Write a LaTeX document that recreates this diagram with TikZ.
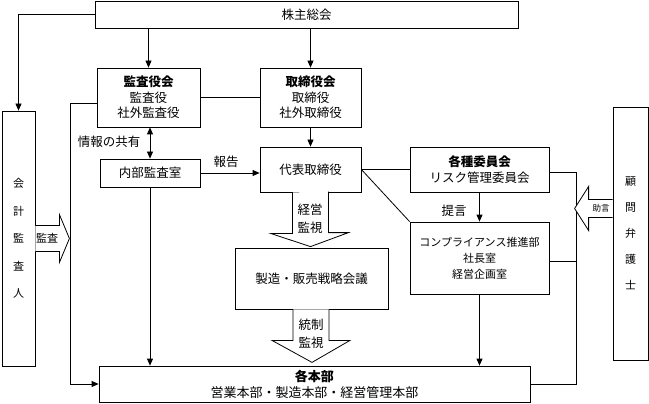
\documentclass[tikz,border=0pt]{standalone}
\usepackage{fontspec}
\setmainfont{Noto Sans CJK JP}
\usetikzlibrary{calc,arrows.meta}

\tikzset{
  box/.style={draw, fill=white, inner sep=1pt, align=center,
    font=\fontsize{12.5}{15.5}\selectfont},
  tatebox/.style={draw, inner sep=1pt, align=center},
  blockarrow/.style={draw, fill=white, line join=miter},
  tag/.style={draw=none, inner sep=0pt, align=center,
    font=\fontsize{12.5}{18}\selectfont},
}

\begin{document}
\begin{tikzpicture}[x=1pt, y=-1pt, line width=0.8pt,
  >={Triangle[length=7pt,width=6pt]}]

\useasboundingbox (0,0) rectangle (649,404);

% boxes
\node [box, minimum width=423pt, minimum height=27pt] (kabunushi) at (306.5,14.5) {株主総会};
\node [box, minimum width=103pt, minimum height=59pt] (kansayaku) at (148.5,97.5) {\textbf{監査役会}\\監査役\\社外監査役};
\node [box, minimum width=101pt, minimum height=59pt] (torishimari) at (310.5,97.5) {\textbf{取締役会}\\取締役\\社外取締役};
\node [box, minimum width=100pt, minimum height=28pt] (naibu) at (150,173) {内部監査室};
\node [box, minimum width=101pt, minimum height=45pt] (daihyo) at (310.5,169.5) {代表取締役};
\node [box, minimum width=153pt, minimum height=61pt] (senryaku) at (311.5,278.5) {\raisebox{-4pt}{製造・販売戦略会議}};
\node [box, minimum width=431pt, minimum height=36pt, font=\fontsize{13}{16}\selectfont] (honbu) at (314.5,384) {\textbf{各本部}\\営業本部・製造本部・経営管理本部};
\node [box, minimum width=139pt, minimum height=45pt] (iinkai) at (479.5,169.5) {\textbf{各種委員会}\\リスク管理委員会};
\node [box, minimum width=139pt, minimum height=72pt, font=\fontsize{11}{16}\selectfont] (comp) at (479.5,258) {コンプライアンス推進部\\社長室\\経営企画室};
\node [tatebox, minimum width=33pt, minimum height=255pt, font=\fontsize{11}{27.5}\selectfont] (kaikei) at (18.5,238.5) {会\\計\\監\\査\\人};
\node [tatebox, minimum width=35pt, minimum height=253pt, font=\fontsize{11}{26}\selectfont] (bengo) at (630.5,233.5) {顧\\問\\弁\\護\\士};

\coordinate (lbus) at (70,0);
\coordinate (rbus) at (576,0);

% connectors
\draw [->] (kabunushi.west) -| (kaikei.north);
\draw [->] (kansayaku.north |- kabunushi.south) -- (kansayaku.north);
\draw [->] (torishimari.north |- kabunushi.south) -- (torishimari.north);
\draw (kansayaku.east) -- (torishimari.west);
\draw [->] ([yshift=-6pt]kansayaku.west) -| (lbus |- honbu.west) -- (honbu.west);
\draw [<->] (kansayaku.south -| naibu.north) -- (naibu.north);
\node [tag] (kyoyu) at (109,142) {情報の共有};
\draw [->] (naibu.south) -- (naibu.south |- honbu.north);
\draw [->] (naibu.east) -- (naibu.east -| daihyo.west);
\node [tag] (hokoku) at (226,162) {報告};
\draw [->] (torishimari.south) -- (daihyo.north);
\draw (daihyo.east) -- (iinkai.west);
\draw (daihyo.east) -- (comp.north west);
\draw [->] (iinkai.south) -- (comp.north);
\node [tag] (teigen) at (454,211) {提言};
\draw [->] (comp.south) -- (comp.south |- honbu.north);
\draw ([yshift=-3pt]iinkai.east) -| (rbus |- honbu.east) -- (honbu.east);
\draw ([yshift=-3pt]comp.east) -- ([yshift=-3pt]comp.east -| rbus);

% block arrows
\draw [blockarrow] ($(daihyo.south)+(-18,0)$) -- ++(0,41) -- ++(-22,0)
  -- ($(senryaku.north)+(-1,-1)$) -- ++(38,-14) -- ++(-20,0) -- ++(0,-41);
\node [tag] (keiei) at (310,219) {経営\\監視};
\draw [blockarrow] ($(senryaku.south)+(-18.5,0)$) -- ++(0,31) -- ++(-21,0)
  -- ($(senryaku.south)+(0.5,53)$) -- ++(38,-22) -- ++(-21,0) -- ++(0,-31);
\node [tag] (tosei) at (311,334) {統制\\監視};
\draw [blockarrow] ($(kaikei.east)+(0,-13)$) -- ++(24,0) -- ++(0,-11)
  -- ($(kaikei.east)+(34,0)$) -- ++(-10,24) -- ++(0,-11) -- ++(-24,0);
\node [tag, font=\fontsize{11}{13}\selectfont] (kansa) at (47,238.5) {監査};
\draw [blockarrow] ($(bengo.west)+(0,-34)$) -- ++(-24,0) -- ++(0,-13)
  -- ($(bengo.west)+(-38,-25)$) -- ++(14,22) -- ++(0,-13) -- ++(24,0);
\node [tag, font=\fontsize{8.5}{10}\selectfont] (jogen) at (601,208.5) {助言};

\end{tikzpicture}
\end{document}
